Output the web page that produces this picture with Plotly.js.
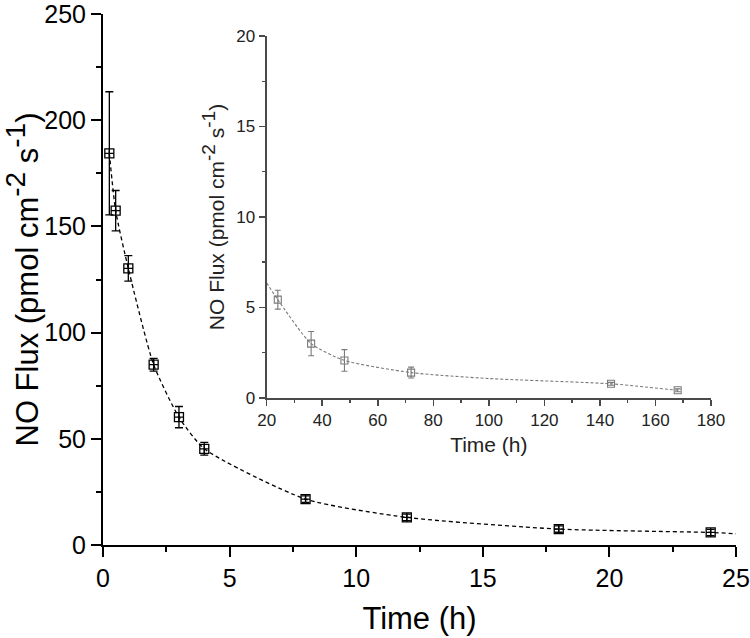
<!DOCTYPE html>
<html>
<head>
<meta charset="utf-8">
<script src="https://cdn.plot.ly/plotly-3.0.1.min.js"></script>
<style>html,body{margin:0;padding:0;background:#fff}#chart{width:750px;height:638px}</style>
</head>
<body>
<div id="chart"></div>
<script>
// Main panel (0–24 h)
const mainTime = [0.25, 0.5, 1, 2, 3, 4, 8, 12, 18, 24];
const mainFlux = [184.4, 157.4, 130.2, 84.9, 60.2, 45.3, 21.6, 13.0, 7.5, 5.9];
const mainErr  = [29, 9.5, 6, 3, 5, 3, 1.5, 1.5, 1.5, 1.5];
// Fitted decay curve drawn through the main panel
const mainFitTime = [0.25, 0.5, 1, 2, 3, 4, 8, 12, 18, 24, 25];
const mainFitFlux = [184.4, 157.4, 130.2, 84.9, 60.2, 45.3, 21.6, 13.0, 7.5, 5.9, 5.3];

// Inset panel (24–168 h)
const insetTime = [24, 36, 48, 72, 144, 168];
const insetFlux = [5.43, 3.0, 2.07, 1.4, 0.78, 0.42];
const insetErr  = [0.52, 0.67, 0.6, 0.3, 0.08, 0.08];
const insetFitTime = [20, 24, 36, 48, 72, 100, 144, 168];
const insetFitFlux = [6.35, 5.43, 3.0, 2.07, 1.4, 1.07, 0.78, 0.42];

const mainTicksX = [0, 5, 10, 15, 20, 25];
const mainTicksY = [0, 50, 100, 150, 200, 250];
const insetTicksX = [20, 40, 60, 80, 100, 120, 140, 160, 180];
const insetTicksY = [0, 5, 10, 15, 20];

const FONT = 'Liberation Sans, Arial, sans-serif';
const GREY = '#7a7a7a';

function fluxTitle(supSize) {
  return 'NO Flux (pmol cm<sup><span style="font-size:' + supSize + 'px">-2</span></sup> s<sup><span style="font-size:' + supSize + 'px">-1</span></sup>)';
}

const traces = [
  {x: mainFitTime, y: mainFitFlux, xaxis: 'x', yaxis: 'y', mode: 'lines',
   line: {color: '#000', width: 1.3, dash: '4px,3px', shape: 'spline', smoothing: 0.6},
   hoverinfo: 'skip', showlegend: false},
  {x: mainTime, y: mainFlux, xaxis: 'x', yaxis: 'y', mode: 'markers',
   marker: {symbol: 'square-cross-open', size: 9, color: '#000', line: {width: 1.3, color: '#000'}},
   error_y: {type: 'data', array: mainErr, visible: true, color: '#000', thickness: 1.3, width: 4},
   showlegend: false},
  {x: insetFitTime, y: insetFitFlux, xaxis: 'x2', yaxis: 'y2', mode: 'lines',
   line: {color: GREY, width: 1.1, dash: '3px,2px', shape: 'spline', smoothing: 0.6},
   hoverinfo: 'skip', showlegend: false},
  {x: insetTime, y: insetFlux, xaxis: 'x2', yaxis: 'y2', mode: 'markers',
   marker: {symbol: 'square-open', size: 7, color: GREY, line: {width: 1.1, color: GREY}},
   error_y: {type: 'data', array: insetErr, visible: true, color: GREY, thickness: 1.1, width: 3},
   showlegend: false}
];

const layout = {
  width: 750, height: 638,
  margin: {l: 103, r: 14, t: 14, b: 93},
  paper_bgcolor: '#fff', plot_bgcolor: 'rgba(0,0,0,0)',
  font: {family: FONT, color: '#000'},
  showlegend: false,
  xaxis: {
    domain: [0, 1], range: [0, 25], tickvals: mainTicksX,
    showgrid: false, zeroline: false, showline: true, linecolor: '#000', linewidth: 2,
    ticks: 'outside', ticklen: 10, tickwidth: 2, tickcolor: '#000',
    minor: {dtick: 2.5, ticks: 'outside', ticklen: 5, tickwidth: 2, tickcolor: '#000', showgrid: false},
    tickfont: {size: 25, family: FONT}, anchor: 'y', ticklabeloverflow: 'allow',
    title: {text: 'Time (h)', font: {size: 31, family: FONT}, standoff: 16}
  },
  yaxis: {
    domain: [0, 1], range: [0, 250], tickvals: mainTicksY,
    showgrid: false, zeroline: false, showline: true, linecolor: '#000', linewidth: 2,
    ticks: 'outside', ticklen: 10, tickwidth: 2, tickcolor: '#000',
    minor: {dtick: 25, ticks: 'outside', ticklen: 5, tickwidth: 2, tickcolor: '#000', showgrid: false},
    tickfont: {size: 25, family: FONT}, anchor: 'x', ticklabeloverflow: 'allow',
    title: {text: fluxTitle(28), font: {size: 31, family: FONT}, standoff: 6}
  },
  xaxis2: {
    domain: [0.2586, 0.9605], range: [20, 180], tickvals: insetTicksX,
    showgrid: false, zeroline: false, showline: true, linecolor: '#4a4a4a', linewidth: 2,
    ticks: 'outside', ticklen: 6, tickwidth: 1.5, tickcolor: '#4a4a4a',
    minor: {dtick: 10, ticks: 'outside', ticklen: 3, tickwidth: 1.5, tickcolor: '#4a4a4a', showgrid: false},
    tickfont: {size: 17, family: FONT, color: '#222'}, anchor: 'y2',
    title: {text: 'Time (h)', font: {size: 21, family: FONT, color: '#222'}, standoff: 8}
  },
  yaxis2: {
    domain: [0.277, 0.9585], range: [0, 20], tickvals: insetTicksY,
    showgrid: false, zeroline: false, showline: true, linecolor: '#4a4a4a', linewidth: 2,
    ticks: 'outside', ticklen: 6, tickwidth: 1.5, tickcolor: '#4a4a4a',
    minor: {dtick: 2.5, ticks: 'outside', ticklen: 3, tickwidth: 1.5, tickcolor: '#4a4a4a', showgrid: false},
    tickfont: {size: 17, family: FONT, color: '#222'}, anchor: 'x2',
    title: {text: fluxTitle(19), font: {size: 21, family: FONT, color: '#222'}, standoff: 6}
  }
};

Plotly.newPlot('chart', traces, layout, {displayModeBar: false, staticPlot: true});
</script>
</body>
</html>
